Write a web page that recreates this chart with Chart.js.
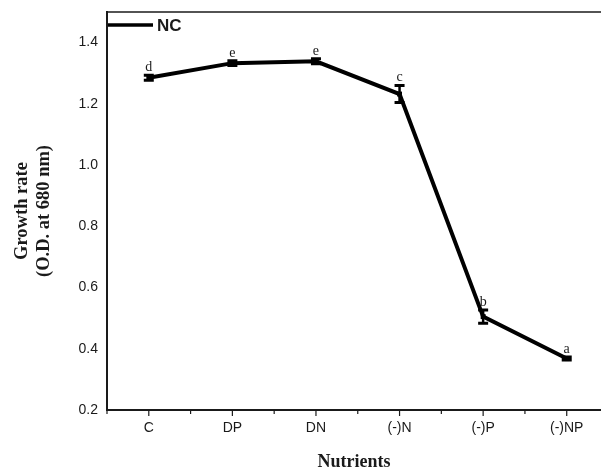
<!DOCTYPE html>
<html>
<head>
<meta charset="utf-8">
<script src="https://cdn.jsdelivr.net/npm/chart.js@4.4.1/dist/chart.umd.min.js"></script>
<style>
	html, body { margin: 0; padding: 0; background: #fff; }
	#wrap { width: 601px; height: 473px; }
</style>
</head>
<body>
<div id="wrap"><canvas id="growthChart"></canvas></div>
<script>
// data
var categories = [ "C", "DP", "DN", "(-)N", "(-)P", "(-)NP" ];
var growthNC = [ 1.285, 1.333, 1.339, 1.232, 0.505, 0.368 ];
var errNC = [ 0.008, 0.008, 0.008, 0.028, 0.022, 0.005 ];
var groupLetters = [ "d", "e", "e", "c", "b", "a" ];
var yTicks = [ 0.2, 0.4, 0.6, 0.8, 1.0, 1.2, 1.4 ];

var sans = "'Liberation Sans', Arial, sans-serif";
var serif = "'Liberation Serif', 'Times New Roman', serif";
var ink = "#1a1a1a";

// error bars, significance letters, x tick marks, legend and the top frame line
var extrasPlugin = {
	id: "extras",
	afterDatasetsDraw: function( chart ) {
		var ctx = chart.ctx;
		var xs = chart.scales.x;
		var ys = chart.scales.y;
		var area = chart.chartArea;
		ctx.save();

		// top frame
		ctx.strokeStyle = ink;
		ctx.lineWidth = 1.5;
		ctx.beginPath();
		ctx.moveTo( area.left, area.top );
		ctx.lineTo( area.right, area.top );
		ctx.stroke();

		// x tick marks (major at categories, minor between)
		ctx.lineWidth = 1.2;
		for( var k = -1; k < categories.length * 2; k++ ){
			var v = k / 2;
			var px = xs.getPixelForValue( v );
			if ( px > area.right ) { continue; }
			var len = ( k % 2 === 0 ) ? 6 : 4;
			ctx.beginPath();
			ctx.moveTo( px, area.bottom );
			ctx.lineTo( px, area.bottom + len );
			ctx.stroke();
		}

		// legend in the top left corner of the plot
		var ds = chart.data.datasets[0];
		ctx.strokeStyle = ds.borderColor;
		ctx.lineWidth = 3.5;
		ctx.beginPath();
		ctx.moveTo( area.left + 1, area.top + 13 );
		ctx.lineTo( area.left + 46, area.top + 13 );
		ctx.stroke();
		ctx.fillStyle = ink;
		ctx.font = "bold 17px " + sans;
		ctx.textAlign = "left";
		ctx.textBaseline = "middle";
		ctx.fillText( ds.label, area.left + 50, area.top + 14 );

		// error bars
		ctx.strokeStyle = "#000";
		for( var i = 0; i < growthNC.length; i++ ){
			var x = xs.getPixelForValue( i );
			var yHi = ys.getPixelForValue( growthNC[i] + errNC[i] );
			var yLo = ys.getPixelForValue( growthNC[i] - errNC[i] );
			ctx.lineWidth = 2.5;
			ctx.beginPath();
			ctx.moveTo( x, yHi );
			ctx.lineTo( x, yLo );
			ctx.stroke();
			ctx.lineWidth = 3;
			ctx.beginPath();
			ctx.moveTo( x - 5, yHi );
			ctx.lineTo( x + 5, yHi );
			ctx.moveTo( x - 5, yLo );
			ctx.lineTo( x + 5, yLo );
			ctx.stroke();

			ctx.fillStyle = ink;
			ctx.font = "14px " + serif;
			ctx.textAlign = "center";
			ctx.textBaseline = "alphabetic";
			ctx.fillText( groupLetters[i], x, yHi - 4 );
		}
		ctx.restore();
	}
};

var chartCtx = document.getElementById( "growthChart" ).getContext( "2d" );

var growthChart = new Chart( chartCtx, {
	type: "line",
	data: {
		datasets: [{
			label: "NC",
			data: growthNC.map( function( v, i ) { return { x: i, y: v }; } ),
			borderColor: "#000",
			backgroundColor: "#000",
			borderWidth: 4,
			tension: 0,
			pointStyle: "rect",
			pointRadius: 3.5,
			pointBorderWidth: 0
		}]
	},
	options: {
		responsive: true,
		maintainAspectRatio: false,
		animation: false,
		layout: { autoPadding: false, padding: { top: 12, right: 0, left: 0, bottom: 0 } },
		plugins: {
			tooltip: { enabled: false },
			legend: { display: false }
		},
		scales: {
			x: {
				type: "linear",
				min: -0.5,
				max: 5.41,
				afterBuildTicks: function( scale ) {
					scale.ticks = categories.map( function( c, i ) { return { value: i }; } );
				},
				afterFit: function( scale ) {
					scale.height = 63;
					scale.paddingLeft = 0;
					scale.paddingRight = 0;
				},
				ticks: {
					padding: 10,
					color: ink,
					font: { family: sans, size: 14 },
					callback: function( value ) {
						return categories[ value ];
					}
				},
				grid: { display: false, drawTicks: false },
				border: { display: true, color: ink, width: 2 },
				title: {
					display: true,
					text: "Nutrients",
					color: ink,
					font: { family: serif, size: 18, weight: "bold" },
					padding: { top: 0, bottom: 0 }
				}
			},
			y: {
				min: 0.2,
				max: 1.5,
				afterBuildTicks: function( scale ) {
					scale.ticks = yTicks.map( function( v ) { return { value: v }; } );
				},
				afterFit: function( scale ) {
					scale.width = 107;
					scale.paddingTop = 0;
					scale.paddingBottom = 0;
				},
				ticks: {
					padding: 9,
					color: ink,
					font: { family: sans, size: 14 },
					callback: function( value ) {
						return value.toFixed( 1 );
					}
				},
				grid: { display: false, drawTicks: false },
				border: { display: true, color: ink, width: 2 },
				title: {
					display: true,
					text: [ "Growth rate", "(O.D. at 680 nm)" ],
					color: ink,
					font: { family: serif, size: 18.5, weight: "bold", lineHeight: 1.2 },
					padding: { top: 11, bottom: 0 }
				}
			}
		}
	},
	plugins: [ extrasPlugin ]
} );
</script>
</body>
</html>
